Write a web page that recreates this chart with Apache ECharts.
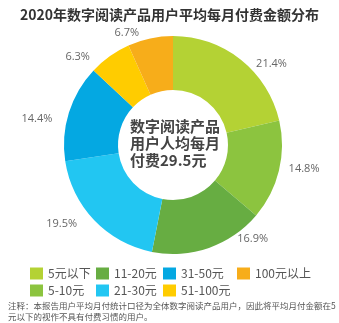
<!DOCTYPE html>
<html><head><meta charset="utf-8">
<script src="https://cdn.jsdelivr.net/npm/echarts@6/dist/echarts.min.js"></script>
<style>html,body{margin:0;padding:0;background:#fff}#c{width:339px;height:323px}</style>
</head><body><div id="c"></div>
<script>
const categories = ['5元以下','5-10元','11-20元','21-30元','31-50元','51-100元','100元以上'];
const values = [21.4, 14.8, 16.9, 19.5, 14.4, 6.3, 6.7];
const colors = ['#b4d234','#8cc43f','#67ad42','#22c6f2','#04a8e2','#ffcc00','#f7ad1a'];
const titleText = '2020年数字阅读产品用户平均每月付费金额分布';
const centerText = '数字阅读产品\n用户人均每月\n付费29.5元';
const noteText = '注释：本报告用户平均月付统计口径为全体数字阅读产品用户，因此将平均月付金额在5\n元以下的视作不具有付费习惯的用户。';

const font = '"Noto Sans CJK SC", sans-serif';
const chart = echarts.init(document.getElementById('c'));
const legendCols = [[0,1],[2,3],[4,5],[6]];
const legendLeft = [30, 96, 163, 237];
// small nudges to label placement (styling only)
const labelNudge = [[4,12],[-5,-4],[20,-18],[-5,-3],[-2,9],[-9,9],[-4,4]];
chart.setOption({
  color: colors,
  animation: false,
  title: {
    text: titleText, left: 'center', top: 3,
    textStyle: {fontFamily: font, fontSize: 14, fontWeight: 'bold', color: '#333'}
  },
  legend: legendCols.map((idx, i) => ({
    data: idx.map(k => categories[k]),
    orient: 'vertical', left: legendLeft[i], top: 267, padding: 0,
    itemWidth: 13, itemHeight: 12, itemGap: 4,
    icon: 'rect',
    textStyle: {fontFamily: font, fontSize: 12, color: '#555', lineHeight: 13}
  })),
  graphic: [
    {type: 'text', left: 130, top: 118, style: {text: centerText, font: 'bold 15px ' + font, fill: '#444', lineHeight: 17}},
    {type: 'text', left: 8, top: 300, style: {text: noteText, font: '8.5px ' + font, fill: '#555', lineHeight: 11}}
  ],
  series: [{
    type: 'pie',
    center: [173, 145],
    radius: [55, 109],
    startAngle: 90,
    clockwise: true,
    data: categories.map((c, i) => ({name: c, value: values[i]})),
    label: {
      show: true, position: 'outside',
      formatter: p => p.value.toFixed(1) + '%',
      fontFamily: '"Open Sans", sans-serif', fontSize: 11, color: '#666'
    },
    labelLine: {show: false, length: 10, length2: 0},
    labelLayout: p => ({dx: labelNudge[p.dataIndex][0], dy: labelNudge[p.dataIndex][1]}),
    emphasis: {disabled: true}
  }]
});
</script></body></html>
